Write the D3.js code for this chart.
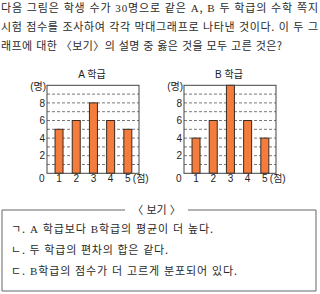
<!DOCTYPE html>
<html lang="ko">
<head>
  <meta charset="UTF-8" />
  <title>A, B 학급 쪽지 시험 점수</title>
  <style>
    body {
      margin: 0;
      background: white;
    }
    svg text {
      font-family: "Noto Sans CJK KR", "Liberation Sans", sans-serif;
      fill: #2a2a2a;
    }
    .serif {
      font-family: "Liberation Serif", "DejaVu Serif", serif;
    }
    .axis-text {
      font-family: "Liberation Sans", "Noto Sans CJK KR", sans-serif;
      font-size: 10px;
      fill: #222;
    }
  </style>
</head>
<body>
  <svg width="320" height="294"></svg>

  <script src="https://d3js.org/d3.v7.min.js"></script>
  <script>
    // data
    const scores = [1, 2, 3, 4, 5];
    const countsA = [5, 6, 8, 6, 5];
    const countsB = [4, 6, 10, 6, 4];
    const yLabels = [2, 4, 6, 8];
    const gridLevels = [1, 2, 3, 4, 5, 6, 7, 8, 9];

    const questionLines = [
      "다음 그림은 학생 수가 30명으로 같은 A, B 두 학급의 수학 쪽지",
      "시험 점수를 조사하여 각각 막대그래프로 나타낸 것이다. 이 두 그",
      "래프에 대한 〈보기〉의 설명 중 옳은 것을 모두 고른 것은?"
    ];
    const choiceLines = [
      "ㄱ. A 학급보다 B학급의 평균이 더 높다.",
      "ㄴ. 두 학급의 편차의 합은 같다.",
      "ㄷ. B학급의 점수가 더 고르게 분포되어 있다."
    ];

    const svg = d3.select("svg");

    // text with latin letters / digits set in a serif face
    function richText(sel, str) {
      str.split(/([A-Z]|\d+)/).forEach((part, i) => {
        if (!part) return;
        sel.append("tspan")
          .attr("class", i % 2 ? "serif" : null)
          .text(part);
      });
    }

    // question
    const qEnds = [318, 318, 282];
    questionLines.forEach((line, i) => {
      const t = svg.append("text")
        .attr("x", 1)
        .attr("y", 11.5 + i * 19)
        .attr("font-size", 11)
        .attr("textLength", qEnds[i] - 1)
        .attr("lengthAdjust", "spacing");
      richText(t, line);
    });

    // panels
    const panelW = 92;
    const y = d3.scaleLinear().domain([0, 10]).range([173.3, 85.3]);

    function drawPanel(left, title, counts) {
      const x = d3.scaleLinear().domain([0.3, 5.65]).range([left, left + panelW]);
      const g = svg.append("g");

      g.selectAll("line.grid")
        .data(gridLevels)
        .join("line")
          .attr("class", "grid")
          .attr("x1", left)
          .attr("x2", left + panelW)
          .attr("y1", d => y(d))
          .attr("y2", d => y(d))
          .attr("stroke", "#555")
          .attr("stroke-width", 0.8)
          .attr("stroke-dasharray", "3,2");

      g.selectAll("rect.bar")
        .data(scores)
        .join("rect")
          .attr("class", "bar")
          .attr("x", (d) => x(d) - 4)
          .attr("width", 8)
          .attr("y", (d, i) => y(counts[i]))
          .attr("height", (d, i) => y(0) - y(counts[i]))
          .attr("fill", "#f47c3c")
          .attr("stroke", "#3b2a22")
          .attr("stroke-width", 1);

      g.append("rect")
        .attr("x", left)
        .attr("y", y(10))
        .attr("width", panelW)
        .attr("height", y(0) - y(10))
        .attr("fill", "none")
        .attr("stroke", "#444")
        .attr("stroke-width", 1);

      g.append("text")
        .attr("class", "axis-text")
        .attr("x", left + panelW / 2 - 1)
        .attr("y", 78)
        .attr("text-anchor", "middle")
        .text(title);

      g.selectAll("text.ylab")
        .data(yLabels)
        .join("text")
          .attr("class", "axis-text ylab")
          .attr("x", left - 2)
          .attr("y", d => y(d) + 3.6)
          .attr("text-anchor", "end")
          .text(d => d);

      g.append("text")
        .attr("class", "axis-text")
        .attr("x", left - 1)
        .attr("y", y(10) + 5)
        .attr("text-anchor", "end")
        .text("(명)");

      g.selectAll("text.xlab")
        .data([0].concat(scores))
        .join("text")
          .attr("class", "axis-text xlab")
          .attr("x", d => x(d))
          .attr("y", 181.5)
          .attr("text-anchor", "middle")
          .text(d => d);

      g.append("text")
        .attr("class", "axis-text")
        .attr("x", x(5) + 5)
        .attr("y", 181.5)
        .text("(점)");
    }

    drawPanel(47, "A 학급", countsA);
    drawPanel(184, "B 학급", countsB);

    // 보기 box
    const box = { x0: 2, x1: 316, y0: 210, y1: 291, gap0: 125, gap1: 188 };
    const border = d3.path();
    border.moveTo(box.gap0, box.y0);
    border.lineTo(box.x0, box.y0);
    border.lineTo(box.x0, box.y1);
    border.lineTo(box.x1, box.y1);
    border.lineTo(box.x1, box.y0);
    border.lineTo(box.gap1, box.y0);
    svg.append("path")
      .attr("d", border.toString())
      .attr("fill", "none")
      .attr("stroke", "#666")
      .attr("stroke-width", 1);

    svg.append("text")
      .attr("x", (box.gap0 + box.gap1) / 2)
      .attr("y", box.y0 + 3.8)
      .attr("text-anchor", "middle")
      .attr("font-size", 11)
      .text("〈 보기 〉");

    const cEnds = [213, 168, 237];
    choiceLines.forEach((line, i) => {
      const t = svg.append("text")
        .attr("x", 11)
        .attr("y", 233 + i * 21)
        .attr("font-size", 11)
        .attr("textLength", cEnds[i] - 11)
        .attr("lengthAdjust", "spacing");
      richText(t, line);
    });
  </script>
</body>
</html>
